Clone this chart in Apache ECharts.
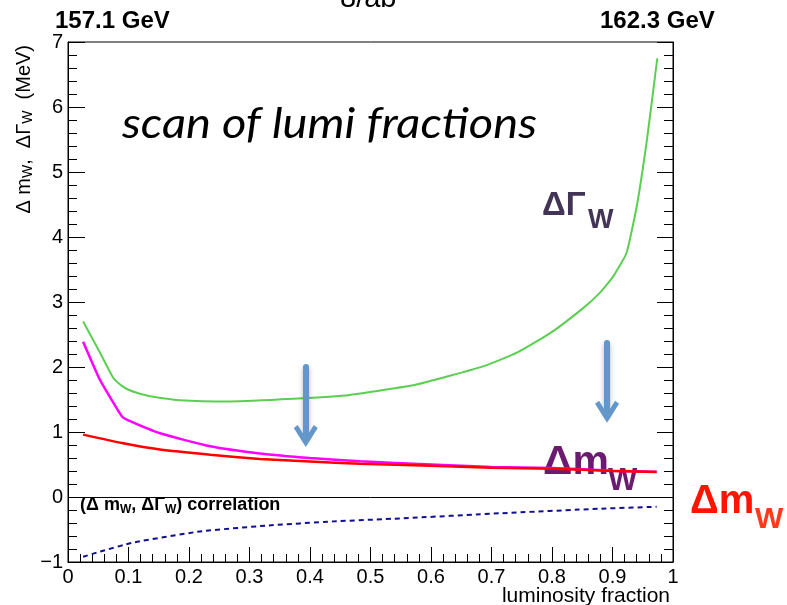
<!DOCTYPE html>
<html>
<head>
<meta charset="utf-8">
<script src="https://cdn.jsdelivr.net/npm/echarts@6/dist/echarts.min.js"></script>
<style>
  html, body { margin: 0; padding: 0; background: #ffffff; }
  #chart { width: 787px; height: 605px; }
</style>
</head>
<body>
<div id="chart"></div>
<script>
// Axis tick labels
const xTickLabels = ['0', '0.1', '0.2', '0.3', '0.4', '0.5', '0.6', '0.7', '0.8', '0.9', '1'];
const yTickLabels = ['\u22121', '0', '1', '2', '3', '4', '5', '6', '7'];

// ΔΓ_W (MeV) versus luminosity fraction
const gammaX = [0.025, 0.053, 0.075, 0.089, 0.100, 0.115, 0.136, 0.185, 0.268, 0.372, 0.466, 0.576, 0.686, 0.742, 0.797, 0.852, 0.879, 0.901, 0.923, 0.940, 0.957, 0.974];
const gammaY = [2.70, 2.22, 1.83, 1.71, 1.65, 1.60, 1.55, 1.49, 1.47, 1.51, 1.57, 1.73, 2.01, 2.22, 2.52, 2.91, 3.14, 3.39, 3.75, 4.47, 5.50, 6.75];

// Δm_W (MeV), magenta curve
const massMagX = [0.025, 0.053, 0.089, 0.097, 0.152, 0.235, 0.317, 0.400, 0.483, 0.600, 0.700, 0.800, 0.900, 0.973];
const massMagY = [2.39, 1.80, 1.24, 1.19, 0.98, 0.78, 0.67, 0.60, 0.55, 0.50, 0.46, 0.445, 0.405, 0.39];

// Δm_W (MeV), red curve
const massRedX = [0.025, 0.089, 0.152, 0.235, 0.317, 0.400, 0.483, 0.600, 0.700, 0.800, 0.900, 0.973];
const massRedY = [0.96, 0.83, 0.73, 0.65, 0.585, 0.548, 0.51, 0.48, 0.45, 0.435, 0.40, 0.385];

// (Δm_W, ΔΓ_W) correlation coefficient
const corrX = [0.025, 0.053, 0.108, 0.218, 0.328, 0.439, 0.549, 0.714, 0.879, 0.973];
const corrY = [-0.92, -0.84, -0.70, -0.53, -0.44, -0.375, -0.33, -0.25, -0.18, -0.15];

// Annotation arrows: x position, shaft top, head centre (data units)
const arrowX = [0.393, 0.891];
const arrowTop = [2.00, 2.37];
const arrowHead = [0.94, 1.31];

const pairs = (xs, ys) => xs.map((x, i) => [x, ys[i]]);

const FONT = '"Liberation Sans", Arial, Helvetica, sans-serif';
const chevron = 'path://M12,0 L24,19 L20,22 L12,9 L4,22 L0,19 Z';

const chart = echarts.init(document.getElementById('chart'), null, { renderer: 'canvas' });

const option = {
  animation: false,
  backgroundColor: '#ffffff',
  grid: {
    left: 68, right: 114, top: 42, bottom: 43,
    show: true, borderColor: '#000000', borderWidth: 1, backgroundColor: 'transparent'
  },
  xAxis: {
    type: 'value', min: 0, max: 1, interval: 0.1,
    axisLine: { show: true, onZero: false, lineStyle: { color: '#000', width: 1 } },
    axisTick: { show: true, inside: true, length: 15, lineStyle: { color: '#000', width: 1 } },
    minorTick: { show: true, splitNumber: 5, length: 8, lineStyle: { color: '#000', width: 1 } },
    splitLine: { show: false },
    axisLabel: {
      show: true, margin: 5, color: '#000', fontFamily: FONT, fontSize: 20,
      formatter: (v) => xTickLabels[Math.round(v * 10)]
    }
  },
  yAxis: [
    {
      type: 'value', min: -1, max: 7, interval: 1, position: 'left',
      axisLine: { show: true, onZero: false, lineStyle: { color: '#000', width: 1 } },
      axisTick: { show: true, inside: true, length: 17, lineStyle: { color: '#000', width: 1 } },
      minorTick: { show: true, splitNumber: 5, length: 9, lineStyle: { color: '#000', width: 1 } },
      splitLine: { show: false },
      axisLabel: {
        show: true, margin: 5, color: '#000', fontFamily: FONT, fontSize: 20,
        formatter: (v) => yTickLabels[Math.round(v) + 1]
      }
    },
    {
      type: 'value', min: -1, max: 7, interval: 1, position: 'right',
      axisLine: { show: true, onZero: false, lineStyle: { color: '#000', width: 1 } },
      axisTick: { show: true, inside: true, length: 16, lineStyle: { color: '#000', width: 1 } },
      minorTick: { show: true, splitNumber: 5, length: 9, lineStyle: { color: '#000', width: 1 } },
      splitLine: { show: false },
      axisLabel: { show: false }
    }
  ],
  series: [
    {
      name: 'gamma', type: 'line', data: pairs(gammaX, gammaY),
      showSymbol: false, symbol: 'none', smooth: 0.15,
      lineStyle: { color: '#5ccf52', width: 2 },
      emphasis: { disabled: true },
      markLine: {
        silent: true,
        symbol: ['none', chevron],
        symbolSize: [24, 22],
        label: { show: false },
        emphasis: { disabled: true },
        lineStyle: {
          color: '#6497c9', width: 6, type: 'solid', cap: 'round',
          shadowBlur: 5, shadowColor: 'rgba(0,0,0,0.3)', shadowOffsetY: 3
        },
        data: arrowX.map((x, i) => [{ coord: [x, arrowTop[i]] }, { coord: [x, arrowHead[i]] }])
      }
    },
    {
      name: 'massMagenta', type: 'line', data: pairs(massMagX, massMagY),
      showSymbol: false, symbol: 'none', smooth: 0.15,
      lineStyle: { color: '#ff00ff', width: 2.5 },
      emphasis: { disabled: true }
    },
    {
      name: 'massRed', type: 'line', data: pairs(massRedX, massRedY),
      showSymbol: false, symbol: 'none', smooth: 0.15,
      lineStyle: { color: '#ff0000', width: 2.5 },
      emphasis: { disabled: true }
    },
    {
      name: 'correlation', type: 'line', data: pairs(corrX, corrY),
      showSymbol: false, symbol: 'none', smooth: 0.15,
      lineStyle: { color: '#10108f', width: 2, type: [5, 4] },
      emphasis: { disabled: true },
      markLine: {
        silent: true, symbol: ['none', 'none'],
        label: { show: false },
        emphasis: { disabled: true },
        lineStyle: { color: '#000', width: 1, type: 'solid' },
        data: [{ yAxis: 0 }]
      }
    }
  ],
  graphic: [
    // beam energies and luminosity
    { type: 'text', x: 55, y: 21, style: { text: '157.1 GeV', font: 'bold 24px ' + FONT, fill: '#000', verticalAlign: 'middle' } },
    { type: 'text', x: 600, y: 21, style: { text: '162.3 GeV', font: 'bold 24px ' + FONT, fill: '#000', verticalAlign: 'middle' } },
    { type: 'text', x: 340, y: -1, style: { text: '8/ab', font: '29px ' + FONT, fill: '#000', verticalAlign: 'middle' } },
    // title inside the frame
    { type: 'text', x: 122, y: 124, scaleX: 1.095, style: { text: 'scan of lumi fractions', font: 'italic 43px Lato, "Open Sans", sans-serif', fill: '#000', verticalAlign: 'middle' } },
    // y axis title
    {
      type: 'text', x: 25, y: 45, rotation: Math.PI / 2,
      style: {
        text: '{a|\u0394 m}{s|W}{a|,  \u0394\u0393}{s|W}{a|  (MeV)}',
        align: 'right', verticalAlign: 'middle', fill: '#000',
        rich: {
          a: { fontFamily: FONT, fontSize: 20, lineHeight: 21, verticalAlign: 'top', color: '#000' },
          s: { fontFamily: FONT, fontSize: 14, lineHeight: 14, verticalAlign: 'bottom', color: '#000' }
        }
      }
    },
    // x axis title
    { type: 'text', x: 670, y: 596, style: { text: 'luminosity fraction', font: '21px ' + FONT, fill: '#000', align: 'right', verticalAlign: 'middle' } },
    // lower panel label
    {
      type: 'text', x: 80, y: 506,
      style: {
        text: '{a|(\u0394 m}{s|W}{a|, \u0394\u0393}{s|W}{a|) correlation}',
        verticalAlign: 'middle', fill: '#000',
        rich: {
          a: { fontFamily: FONT, fontWeight: 'bold', fontSize: 18, lineHeight: 19, verticalAlign: 'top', color: '#000' },
          s: { fontFamily: FONT, fontWeight: 'bold', fontSize: 12, lineHeight: 12, verticalAlign: 'bottom', color: '#000' }
        }
      }
    },
    // curve labels
    { type: 'text', x: 542, y: 206, style: { text: '\u0394\u0393', font: 'bold 33px ' + FONT, fill: '#413456', verticalAlign: 'middle' } },
    { type: 'text', x: 588, y: 221, style: { text: 'W', font: 'bold 27px ' + FONT, fill: '#413456', verticalAlign: 'middle' } },
    { type: 'text', x: 543, y: 463, style: { text: '\u0394m', font: 'bold 41px ' + FONT, fill: '#6b1b6f', verticalAlign: 'middle' } },
    { type: 'text', x: 608, y: 481, style: { text: 'W', font: 'bold 31px ' + FONT, fill: '#6b1b6f', verticalAlign: 'middle' } },
    { type: 'text', x: 690, y: 502, style: { text: '\u0394m', font: 'bold 40px ' + FONT, fill: '#ff1400', verticalAlign: 'middle' } },
    { type: 'text', x: 755, y: 520, style: { text: 'W', font: 'bold 30px ' + FONT, fill: '#ff3a1a', verticalAlign: 'middle' } }
  ]
};

chart.setOption(option);
</script>
</body>
</html>
